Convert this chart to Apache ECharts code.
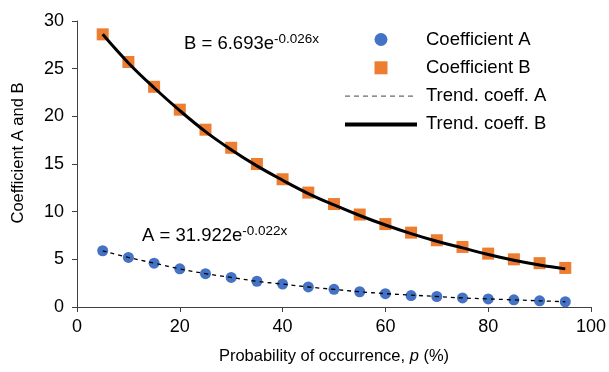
<!DOCTYPE html>
<html>
<head>
<meta charset="utf-8">
<script src="https://cdn.jsdelivr.net/npm/echarts@6/dist/echarts.min.js"></script>
<style>
  html, body { margin: 0; padding: 0; background: #fff; }
  #chart { width: 609px; height: 372px; }
</style>
</head>
<body>
<div id="chart"></div>
<script>
// probability of occurrence p (%)
const pValues = [5, 10, 15, 20, 25, 30, 35, 40, 45, 50, 55, 60, 65, 70, 75, 80, 85, 90, 95];
const coeffA = [5.9, 5.2, 4.6, 4.0, 3.5, 3.1, 2.7, 2.4, 2.1, 1.85, 1.6, 1.4, 1.2, 1.1, 0.95, 0.85, 0.75, 0.65, 0.55];
const coeffB = [28.6, 25.7, 23.1, 20.7, 18.6, 16.7, 15.0, 13.4, 12.0, 10.8, 9.7, 8.7, 7.8, 7.0, 6.3, 5.6, 5.0, 4.6, 4.1];
const trendA = [5.9, 5.2, 4.6, 4.0, 3.5, 3.1, 2.7, 2.4, 2.1, 1.85, 1.6, 1.4, 1.25, 1.1, 0.95, 0.85, 0.75, 0.65, 0.55];
const trendB = [28.6, 25.6, 23.0, 20.6, 18.4, 16.5, 14.8, 13.3, 11.9, 10.7, 9.6, 8.6, 7.7, 6.9, 6.2, 5.5, 4.9, 4.4, 4.0];
const xTicks = { min: 0, max: 100, step: 20 };
const yTicks = { min: 0, max: 30, step: 5 };
const seriesNames = ['Coefficient A', 'Coefficient B', 'Trend. coeff. A', 'Trend. coeff. B'];

const pairs = (ys) => pValues.map((x, i) => [x, ys[i]]);
const font = 'Liberation Sans, Arial, sans-serif';
const axisColor = '#404040';

const chart = echarts.init(document.getElementById('chart'));
chart.setOption({
  animation: false,
  textStyle: { fontFamily: font, color: '#000' },
  grid: { left: 77, right: 16, top: 21, bottom: 65, containLabel: false },
  xAxis: {
    type: 'value',
    min: xTicks.min, max: xTicks.max, interval: xTicks.step,
    name: '{n|Probability of occurrence, }{i|p}{n| (%)}',
    nameLocation: 'middle',
    nameGap: 41,
    nameTextStyle: {
      rich: {
        n: { fontSize: 16.5, fontFamily: font, color: '#000' },
        i: { fontSize: 16.5, fontFamily: font, color: '#000', fontStyle: 'italic' }
      }
    },
    axisLine: { lineStyle: { color: axisColor, width: 1 } },
    axisTick: { inside: false, length: 5, lineStyle: { color: axisColor } },
    axisLabel: { fontSize: 18, color: '#000', margin: 11 },
    splitLine: { show: false }
  },
  yAxis: {
    type: 'value',
    min: yTicks.min, max: yTicks.max, interval: yTicks.step,
    name: 'Coefficient A and B',
    nameLocation: 'middle',
    nameGap: 50,
    nameTextStyle: { fontSize: 16.5, color: '#000', padding: [0, 0, 0, 22] },
    axisLine: { show: true, lineStyle: { color: axisColor, width: 1 } },
    axisTick: { show: true, inside: false, length: 5, lineStyle: { color: axisColor } },
    axisLabel: { fontSize: 18, color: '#000', margin: 13 },
    splitLine: { show: false }
  },
  legend: {
    orient: 'vertical',
    left: 343,
    top: 30,
    padding: 0,
    itemWidth: 72,
    itemHeight: 13,
    itemGap: 9.3,
    data: [
      { name: seriesNames[0], icon: 'circle' },
      { name: seriesNames[1], icon: 'path://M0,0L10,0L10,10L0,10Z' },
      { name: seriesNames[2], itemStyle: { opacity: 0 }, lineStyle: { width: 1, color: '#444', type: [5, 4] } },
      { name: seriesNames[3], itemStyle: { opacity: 0 }, lineStyle: { width: 4 } }
    ],
    textStyle: { fontSize: 18.5, color: '#000', padding: [0, 0, 0, 4] }
  },
  series: [
    {
      name: seriesNames[0], type: 'scatter', data: pairs(coeffA),
      symbol: 'circle', symbolSize: 11,
      itemStyle: { color: '#4472C4', opacity: 1 }, z: 2
    },
    {
      name: seriesNames[1], type: 'scatter', data: pairs(coeffB),
      symbol: 'rect', symbolSize: 12,
      itemStyle: { color: '#ED7D31', opacity: 1 }, z: 2
    },
    {
      name: seriesNames[2], type: 'line', data: pairs(trendA),
      smooth: 0.4, showSymbol: false, symbol: 'none',
      lineStyle: { color: '#000', width: 1.3, type: [4, 4] },
      itemStyle: { color: '#000' }, z: 3
    },
    {
      name: seriesNames[3], type: 'line', data: pairs(trendB),
      smooth: 0.4, showSymbol: false, symbol: 'none',
      lineStyle: { color: '#000', width: 3 },
      itemStyle: { color: '#000' }, z: 3
    }
  ],
  graphic: [
    {
      type: 'text', left: 184, top: 32,
      style: {
        text: '{m|B = 6.693e}{s|-0.026x}',
        rich: {
          m: { fontSize: 18.5, fontFamily: font, fill: '#000' },
          s: { fontSize: 13.5, fontFamily: font, fill: '#000', padding: [0, 0, 9, 0] }
        }
      }
    },
    {
      type: 'text', left: 142, top: 224,
      style: {
        text: '{m|A = 31.922e}{s|-0.022x}',
        rich: {
          m: { fontSize: 18.5, fontFamily: font, fill: '#000' },
          s: { fontSize: 13.5, fontFamily: font, fill: '#000', padding: [0, 0, 9, 0] }
        }
      }
    }
  ]
});
</script>
</body>
</html>
